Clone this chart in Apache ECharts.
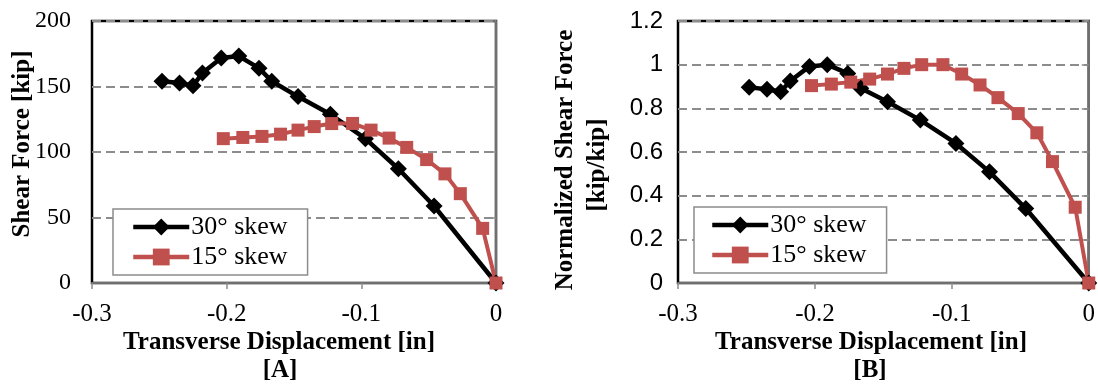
<!DOCTYPE html>
<html>
<head>
<meta charset="utf-8">
<script src="https://cdn.jsdelivr.net/npm/echarts@6/dist/echarts.min.js"></script>
<style>
  html, body { margin: 0; padding: 0; background: #fff; }
  #main { width: 1098px; height: 388px; }
</style>
</head>
<body>
<div id="main"></div>
<script>
// 数据：横向位移 [in]
var dispSkew30 = [-0.248, -0.235, -0.225, -0.218, -0.204, -0.191, -0.176, -0.1665, -0.147, -0.123, -0.097, -0.0725, -0.046, 0];
var dispSkew15 = [-0.2025, -0.188, -0.1738, -0.160, -0.147, -0.135, -0.122, -0.1065, -0.0928, -0.0794, -0.0663, -0.0515, -0.0379, -0.0265, -0.0099, 0];

// 剪力 [kip]
var shearSkew30 = [154, 152.7, 150.5, 160.3, 171.7, 173.2, 164, 154, 142.3, 128.8, 110.2, 87.2, 58.8, 0];
var shearSkew15 = [110.2, 111.1, 111.9, 113.6, 116.7, 119.4, 121.7, 121.8, 116.7, 110.6, 103.5, 94.2, 83.3, 68.2, 41.7, 0];

// 归一化剪力 [kip/kip]
var normSkew30 = [0.896, 0.887, 0.876, 0.925, 0.992, 1.0, 0.96, 0.892, 0.83, 0.746, 0.639, 0.509, 0.341, 0];
var normSkew15 = [0.904, 0.911, 0.92, 0.934, 0.957, 0.983, 1.0, 1.0, 0.957, 0.907, 0.849, 0.776, 0.688, 0.556, 0.347, 0];

var seriesNames = ['30° skew', '15° skew'];
var xTicks = { min: -0.3, max: 0, interval: 0.1 };
var yTicksA = { min: 0, max: 200, interval: 50 };
var yTicksB = { min: 0, max: 1.2, interval: 0.2 };

var serif = "'Liberation Serif', 'Times New Roman', serif";
var sans = "'Liberation Sans', Arial, sans-serif";
var red = '#c0504d';

function pairs(xs, ys) {
    var out = [];
    for (var i = 0; i < xs.length; i++) {
        out.push([xs[i], ys[i]]);
    }
    return out;
}

function makeX(idx) {
    return {
        type: 'value',
        gridIndex: idx,
        min: xTicks.min,
        max: xTicks.max,
        interval: xTicks.interval,
        axisLine: { show: true, onZero: false, lineStyle: { color: '#6f6f6f', width: 2 } },
        axisTick: { show: true, length: 6, lineStyle: { color: '#8c8c8c', width: 1.5 } },
        axisLabel: { fontFamily: serif, fontSize: 25, color: '#000', margin: 19 },
        splitLine: { show: false }
    };
}

function makeY(idx, ticks, font, gap) {
    return {
        type: 'value',
        gridIndex: idx,
        min: ticks.min,
        max: ticks.max,
        interval: ticks.interval,
        axisLine: { show: true, lineStyle: { color: '#6f6f6f', width: 2 } },
        axisTick: { show: true, length: 7, lineStyle: { color: '#8c8c8c', width: 1.5 } },
        axisLabel: { fontFamily: font, fontSize: 24, color: '#000', margin: gap },
        splitLine: { show: true, lineStyle: { color: '#8c8c8c', width: 2, type: [9, 5] } }
    };
}

function lineBlack(idx, data) {
    return {
        name: seriesNames[0],
        type: 'line',
        xAxisIndex: idx,
        yAxisIndex: idx,
        data: data,
        symbol: 'diamond',
        symbolSize: [17, 17],
        showAllSymbol: true,
        clip: false,
        lineStyle: { color: '#000', width: 4.5 },
        itemStyle: { color: '#000' }
    };
}

function lineRed(idx, data) {
    return {
        name: seriesNames[1],
        type: 'line',
        xAxisIndex: idx,
        yAxisIndex: idx,
        data: data,
        symbol: 'rect',
        symbolSize: [13, 13],
        showAllSymbol: true,
        clip: false,
        lineStyle: { color: red, width: 4 },
        itemStyle: { color: red }
    };
}

function makeLegend(left, top, padLeft) {
    return {
        orient: 'vertical',
        left: left,
        top: top,
        data: seriesNames,
        itemWidth: 56,
        itemHeight: 21,
        itemGap: 0,
        padding: [3, 20, 3, padLeft],
        backgroundColor: '#fff',
        borderColor: '#8c8c8c',
        borderWidth: 1.5,
        borderRadius: 0,
        lineStyle: { width: 4.5 },
        textStyle: { fontFamily: serif, fontSize: 26, color: '#000', lineHeight: 30, padding: [0, 0, 0, -3] }
    };
}

function titleText(x, y, text, rot, size) {
    return {
        type: 'text',
        x: x,
        y: y,
        rotation: rot || 0,
        style: {
            text: text,
            fontFamily: serif,
            fontWeight: 'bold',
            fontSize: size || 25,
            fill: '#000',
            align: 'center',
            verticalAlign: 'middle'
        }
    };
}

var chart = echarts.init(document.getElementById('main'), null, { renderer: 'canvas' });

var option = {
    animation: false,
    backgroundColor: '#fff',
    grid: [
        { left: 92, top: 21, width: 404, height: 262, show: true, borderColor: '#000', borderWidth: 2.5, backgroundColor: 'transparent' },
        { left: 678, top: 21, width: 415, height: 262, show: true, borderColor: '#000', borderWidth: 2.5, backgroundColor: 'transparent' }
    ],
    xAxis: [makeX(0), makeX(1)],
    yAxis: [makeY(0, yTicksA, serif, 21), makeY(1, yTicksB, sans, 15)],
    legend: [makeLegend(113, 209, 18), makeLegend(694, 207, 16)],
    series: [
        lineBlack(0, pairs(dispSkew30, shearSkew30)),
        lineRed(0, pairs(dispSkew15, shearSkew15)),
        lineBlack(1, pairs(dispSkew30, normSkew30)),
        lineRed(1, pairs(dispSkew15, normSkew15))
    ],
    graphic: [
        titleText(279, 343, 'Transverse Displacement [in]'),
        titleText(280, 371, '[A]'),
        titleText(871, 343, 'Transverse Displacement [in]'),
        titleText(870, 371, '[B]'),
        titleText(23, 144, 'Shear Force [kip]', Math.PI / 2),
        titleText(566, 160, 'Normalized Shear Force', Math.PI / 2),
        titleText(598, 165, '[kip/kip]', Math.PI / 2)
    ]
};

chart.setOption(option);

window.onresize = function () {
    chart.resize();
};
</script>
</body>
</html>
